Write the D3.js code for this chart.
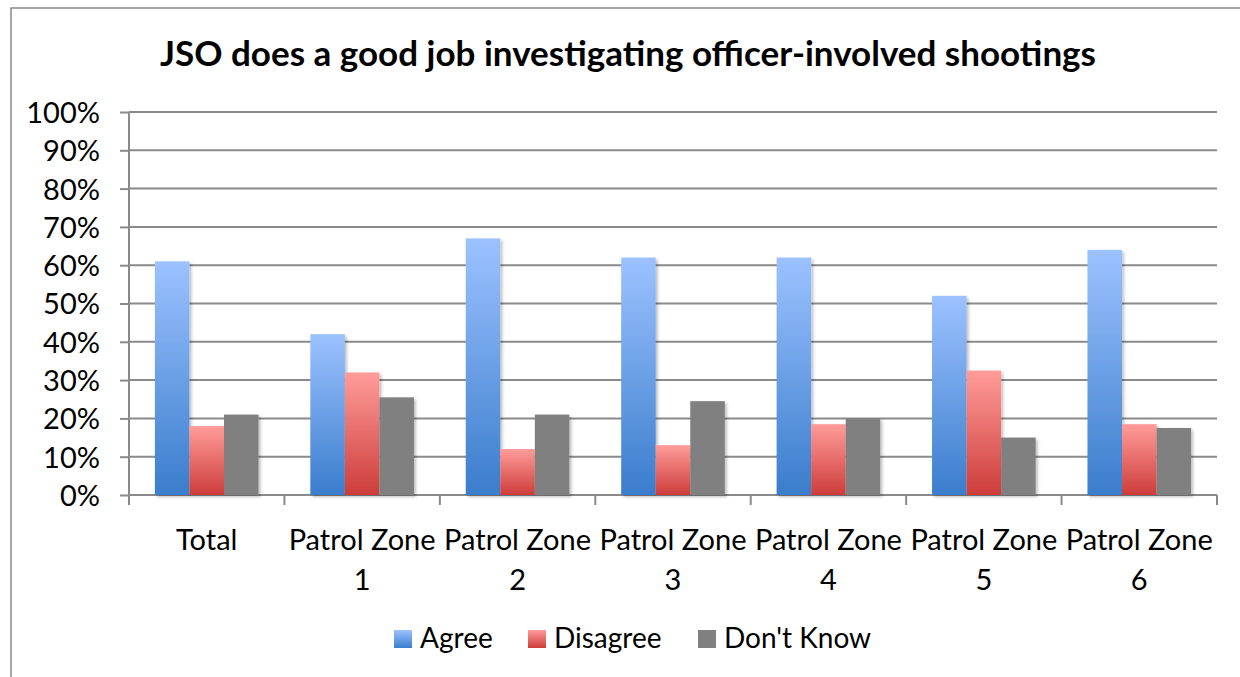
<!DOCTYPE html>
<html>
<head>
<meta charset="utf-8">
<script src="https://cdn.jsdelivr.net/npm/d3@7"></script>
<style>
  body { margin: 0; background: #fff; }
  text { font-family: Lato, "Open Sans", sans-serif; fill: #000; }
</style>
</head>
<body>
<div id="chart"></div>
<script>
// data
var categories = ["Total", "Patrol Zone 1", "Patrol Zone 2", "Patrol Zone 3", "Patrol Zone 4", "Patrol Zone 5", "Patrol Zone 6"];
var series = ["Agree", "Disagree", "Don't Know"];
var agree    = [0.61, 0.42, 0.67, 0.62, 0.62, 0.52, 0.64];
var disagree = [0.18, 0.32, 0.12, 0.13, 0.185, 0.325, 0.185];
var dontKnow = [0.21, 0.255, 0.21, 0.245, 0.20, 0.15, 0.175];
var yTicks = [0, 0.1, 0.2, 0.3, 0.4, 0.5, 0.6, 0.7, 0.8, 0.9, 1.0];

var values = [agree, disagree, dontKnow];

var W = 1240, H = 677;
var plot = {left: 129, right: 1217, top: 112, bottom: 495};

var svg = d3.select("#chart")
  .append("svg")
    .attr("width", W)
    .attr("height", H);

var defs = svg.append("defs");

// gradients for the bars
function grad(id, top, bottom) {
  var g = defs.append("linearGradient")
    .attr("id", id)
    .attr("x1", 0).attr("y1", 0)
    .attr("x2", 0).attr("y2", 1);
  g.append("stop").attr("offset", "0%").attr("stop-color", top);
  g.append("stop").attr("offset", "100%").attr("stop-color", bottom);
}
grad("gAgree", "#9cc2ff", "#3a7dcc");
grad("gDisagree", "#ff9c9a", "#cd3d3a");
grad("gDk", "#808080", "#808080");
var fills = ["url(#gAgree)", "url(#gDisagree)", "url(#gDk)"];

var shadow = defs.append("filter")
  .attr("id", "shadow")
  .attr("x", "-20%").attr("y", "-5%")
  .attr("width", "150%").attr("height", "115%");
shadow.append("feDropShadow")
  .attr("dx", 2).attr("dy", 2)
  .attr("stdDeviation", 1.5)
  .attr("flood-color", "#000")
  .attr("flood-opacity", 0.25);

// chart border (cropped at the right and bottom)
svg.append("rect")
  .attr("x", 11).attr("y", 8)
  .attr("width", W + 20).attr("height", H + 20)
  .attr("fill", "none")
  .attr("stroke", "#8a8a8a")
  .attr("stroke-width", 1.5);

svg.append("text")
  .attr("x", 628)
  .attr("y", 66)
  .attr("text-anchor", "middle")
  .style("font-size", "35px")
  .style("font-weight", "bold")
  .text("JSO does a good job investigating officer-involved shootings");

var y = d3.scaleLinear()
  .domain([0, 1])
  .range([plot.bottom, plot.top]);

var x0 = d3.scaleBand()
  .domain(categories)
  .range([plot.left, plot.right])
  .paddingInner(1 / 3)
  .paddingOuter(1 / 6);

var x1 = d3.scaleBand()
  .domain(series)
  .range([0, x0.bandwidth()]);

// gridlines + y axis
var yAxis = svg.append("g")
  .attr("transform", "translate(" + plot.left + ",0)")
  .call(d3.axisLeft(y)
    .tickValues(yTicks)
    .tickSize(9)
    .tickPadding(20)
    .tickFormat(d3.format(".0%")));
yAxis.select(".domain").remove();
yAxis.selectAll(".tick line").attr("stroke", "#8a8a8a").attr("stroke-width", 2);
yAxis.selectAll(".tick text")
  .style("font-size", "29px")
  .attr("dy", "0.36em");

svg.append("g")
  .selectAll("line")
  .data(yTicks)
  .enter()
  .append("line")
    .attr("x1", plot.left)
    .attr("x2", plot.right)
    .attr("y1", function(d) { return y(d); })
    .attr("y2", function(d) { return y(d); })
    .attr("stroke", "#8a8a8a")
    .attr("stroke-width", 2);

svg.append("line")
  .attr("x1", plot.left).attr("x2", plot.left)
  .attr("y1", plot.top).attr("y2", plot.bottom + 10)
  .attr("stroke", "#8a8a8a")
  .attr("stroke-width", 2);

// category ticks under the axis
var catEdges = d3.range(categories.length + 1).map(function(i) {
  return plot.left + i * x0.step();
});
svg.append("g")
  .selectAll("line")
  .data(catEdges)
  .enter()
  .append("line")
    .attr("x1", function(d) { return d; })
    .attr("x2", function(d) { return d; })
    .attr("y1", plot.bottom)
    .attr("y2", plot.bottom + 10)
    .attr("stroke", "#8a8a8a")
    .attr("stroke-width", 2);

// bars
var groups = svg.append("g")
  .selectAll("g")
  .data(categories)
  .enter()
  .append("g")
    .attr("transform", function(d) { return "translate(" + x0(d) + ",0)"; });

groups.selectAll("rect")
  .data(function(d, i) {
    return series.map(function(s, j) { return {s: s, j: j, v: values[j][i]}; });
  })
  .enter()
  .append("rect")
    .attr("x", function(d) { return x1(d.s); })
    .attr("y", function(d) { return y(d.v); })
    .attr("width", x1.bandwidth())
    .attr("height", function(d) { return y(0) - y(d.v); })
    .attr("fill", function(d) { return fills[d.j]; })
    .attr("filter", "url(#shadow)");

// category labels, two lines
var labels = svg.append("g")
  .selectAll("text")
  .data(categories)
  .enter()
  .append("text")
    .attr("x", function(d) { return x0(d) + x0.bandwidth() / 2; })
    .attr("y", 550)
    .attr("text-anchor", "middle")
    .style("font-size", "29px");
labels.each(function(d) {
  var m = d.match(/^(.*) (\d+)$/);
  var t = d3.select(this);
  if (m) {
    t.append("tspan").attr("x", t.attr("x")).text(m[1]);
    t.append("tspan").attr("x", t.attr("x")).attr("dy", 40).text(m[2]);
  } else {
    t.text(d);
  }
});

// legend
var legendX = [394, 528, 698];
var legend = svg.append("g")
  .selectAll("g")
  .data(series)
  .enter()
  .append("g")
    .attr("transform", function(d, i) { return "translate(" + legendX[i] + ",630)"; });
legend.append("rect")
  .attr("width", 18)
  .attr("height", 18)
  .attr("fill", function(d, i) { return fills[i]; });
legend.append("text")
  .attr("x", 26)
  .attr("y", 18)
  .style("font-size", "28px")
  .text(function(d) { return d; });
</script>
</body>
</html>
